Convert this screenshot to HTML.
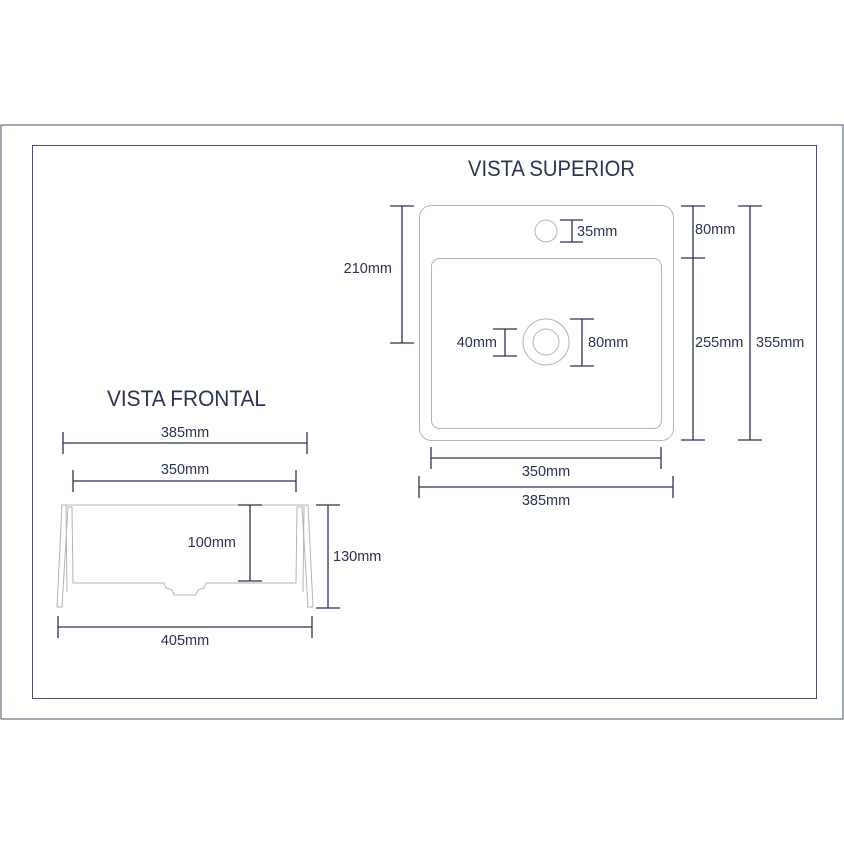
<!DOCTYPE html>
<html><head><style>
html,body{margin:0;padding:0;background:#fff}
svg{display:block}
text{font-family:"Liberation Sans",sans-serif;fill:#2b3450}
</style></head><body>
<svg width="844" height="844" viewBox="0 0 844 844">
<rect x="1" y="125" width="842" height="594" fill="none" stroke="#4a5068" stroke-width="1"/>
<rect x="32.5" y="145.5" width="784" height="553" fill="none" stroke="#4a5068" stroke-width="1"/>

<text x="468" y="176" font-size="22" textLength="167" lengthAdjust="spacingAndGlyphs">VISTA SUPERIOR</text>
<text x="107" y="406" font-size="22" textLength="159" lengthAdjust="spacingAndGlyphs">VISTA FRONTAL</text>

<g fill="none" stroke="#b5b5b5" stroke-width="1">
<rect x="419.5" y="205.5" width="254" height="235" rx="12"/>
<rect x="431.5" y="258.5" width="230" height="170" rx="8"/>
<circle cx="546" cy="231" r="11"/>
<circle cx="546" cy="342" r="23"/>
<circle cx="546" cy="342" r="13"/>
<path d="M62,505 L308,505 L313,607 L308,607 L302,507 L297,507 L296,583 L206,583 L204,588 L198,590 L196,595 L174,595 L172,590 L166,588 L164,583 L73,583 L72,507 L68,507 L62,607 L57,607 Z"/>
<path d="M66,505 L67,592 M304,505 L303,592"/>
</g>

<g stroke="#2b3450" stroke-width="1.3" fill="none">
<path d="M402,206V343 M390,206H414 M390,343H414"/>
<path d="M572,220V242 M560,220H583 M560,242H583"/>
<path d="M505,329V356 M493,329H517 M493,356H517"/>
<path d="M582,319V366 M570,319H594 M570,366H594"/>
<path d="M693,206V440 M681,206H705 M681,258H705 M681,440H705"/>
<path d="M750,206V440 M738,206H762 M738,440H762"/>
<path d="M431,458H661 M431,447V469 M661,447V469"/>
<path d="M419,487H673 M419,476V498 M673,476V498"/>
<path d="M63,443H307 M63,432V454 M307,432V454"/>
<path d="M73,481H296 M73,470V492 M296,470V492"/>
<path d="M58,627H312 M58,616V638 M312,616V638"/>
<path d="M250,505V581 M238,505H262 M238,581H262"/>
<path d="M328,505V608 M316,505H340 M316,608H340"/>
</g>

<g font-size="14.5">
<text x="392" y="273" text-anchor="end">210mm</text>
<text x="577" y="236">35mm</text>
<text x="497" y="347" text-anchor="end">40mm</text>
<text x="588" y="347">80mm</text>
<text x="695" y="234">80mm</text>
<text x="695" y="347">255mm</text>
<text x="756" y="347">355mm</text>
<text x="546" y="476" text-anchor="middle">350mm</text>
<text x="546" y="505" text-anchor="middle">385mm</text>
<text x="185" y="437" text-anchor="middle">385mm</text>
<text x="185" y="474" text-anchor="middle">350mm</text>
<text x="185" y="645" text-anchor="middle">405mm</text>
<text x="236" y="547" text-anchor="end">100mm</text>
<text x="333" y="561">130mm</text>
</g>
</svg>
</body></html>
